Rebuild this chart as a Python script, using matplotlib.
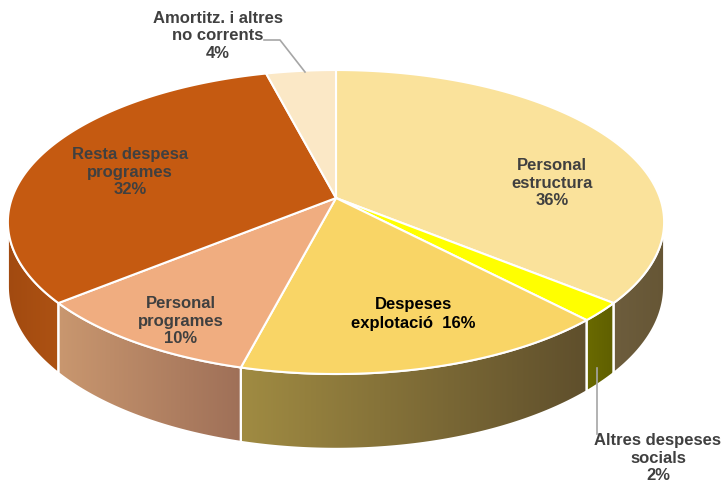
import numpy as np
import matplotlib.pyplot as plt
from matplotlib.patches import Polygon
from matplotlib.colors import LinearSegmentedColormap

# data, clockwise from 12 o'clock
labels = ['Personal\nestructura\n36%', 'Altres despeses\nsocials\n2%',
          'Despeses\nexplotació  16%', 'Personal\nprogrames\n10%',
          'Resta despesa\nprogrames\n32%', 'Amortitz. i altres\nno corrents\n4%']
values = [36, 2, 16, 10, 32, 4]
top_colors = ['#FAE29B', '#FFFF00', '#F9D566', '#F0AD80', '#C55A11', '#FBE8C6']
side_colors = [('#6d5d3d', '#665635'), ('#6a6a00', '#5f5f00'),
               ('#a08b42', '#5f4f2c'), ('#c9976f', '#9f7058'),
               ('#a24a10', '#ad5213'), ('#d9c9a8', '#d9c9a8')]

# fake perspective for the 3d pie
cx, cy = 336, 198
A, B, K = 324, 148.2, 0.158
D = 63


def proj(theta, r=1.0, drop=0.0):
    t = np.radians(theta)
    u = r * np.sin(t)
    v = r * np.cos(t)
    w = 1 + K * v
    return cx + A * u / w, cy - B * v / w + drop / w


fig = plt.figure(figsize=(7.21, 4.9), dpi=100)
ax = fig.add_axes([0, 0, 1, 1])
ax.set_xlim(0, 721)
ax.set_ylim(490, 0)
ax.axis('off')

angles = np.cumsum([0] + values) * 3.6
front_lo = np.degrees(np.arccos(-K))
front_hi = 360 - front_lo

# sides
for i in range(len(values)):
    a0 = max(angles[i], front_lo)
    a1 = min(angles[i + 1], front_hi)
    if a1 <= a0:
        continue
    th = np.linspace(a0, a1, 80)
    xt, yt = proj(th)
    xb, yb = proj(th[::-1], drop=D)
    pts = np.column_stack([np.r_[xt, xb], np.r_[yt, yb]])
    poly = Polygon(pts, closed=True, facecolor='none', edgecolor='white', lw=1.5, zorder=3)
    ax.add_patch(poly)
    cmap = LinearSegmentedColormap.from_list('s%d' % i, side_colors[i])
    grad = np.linspace(0, 1, 256).reshape(1, -1)
    im = ax.imshow(grad, cmap=cmap, aspect='auto', zorder=2,
                   extent=[pts[:, 0].min(), pts[:, 0].max(), pts[:, 1].max(), pts[:, 1].min()])
    im.set_clip_path(poly)

# top
for i in range(len(values)):
    th = np.linspace(angles[i], angles[i + 1], 120)
    xt, yt = proj(th)
    pts = np.column_stack([np.r_[cx, xt], np.r_[cy, yt]])
    ax.add_patch(Polygon(pts, closed=True, facecolor=top_colors[i],
                         edgecolor='white', lw=1.5, zorder=4))

font = dict(family='Liberation Sans', fontsize=12, fontweight='bold',
            ha='center', va='center', zorder=6, linespacing=1.2)
grey = '#404040'

ax.text(552, 183, labels[0], color=grey, **font)
ax.text(413, 314, labels[2], color='black', **dict(font, linespacing=1.3))
ax.text(181, 321, labels[3], color=grey, **font)
ax.text(130, 172, labels[4], color=grey, **font)
ax.text(218, 36, labels[5], color=grey, **font)
ax.text(658, 458, labels[1], color=grey, **font)

# leader lines
ax.plot([264, 280, 305], [40, 40, 72], color='#a6a6a6', lw=1.2, zorder=5)
ax.plot([597, 597], [368, 434], color='#a6a6a6', lw=1.2, zorder=5)

fig.savefig('out.png', dpi=100)
